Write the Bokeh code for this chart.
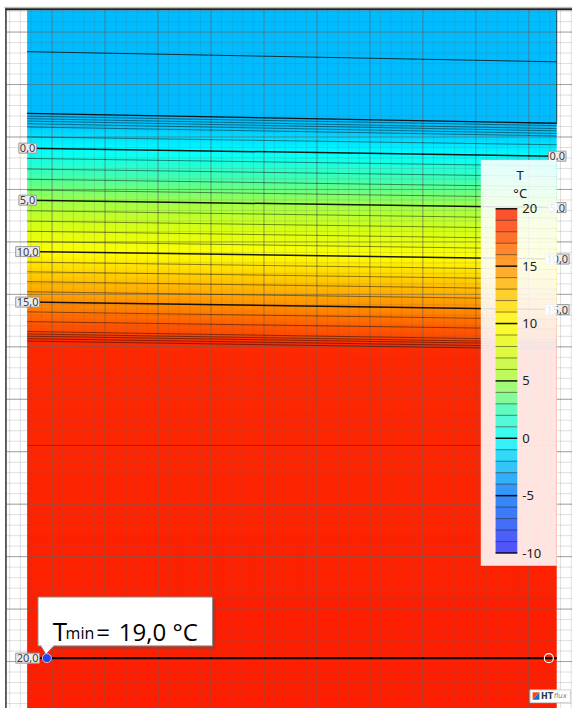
import numpy as np
from bokeh.plotting import figure
from bokeh.models import Range1d, LinearColorMapper, ColumnDataSource
from bokeh.transform import linear_cmap
from bokeh.core.properties import value
from bokeh.embed import file_html
from bokeh.resources import INLINE

# ---------------- data ----------------
# isotherm levels (degC) and their vertical position at left / right edge of the section
iso_level = [-2.45, -2.4, -2.3, -2.2, -2.1, -2.0, -1.9, -1.0,
             0, 1, 2, 3, 4, 5, 6, 7, 8, 9, 10, 11, 12, 13, 14, 15, 16, 17,
             17.8, 18.3, 18.7, 19.1, 19.4, 19.6, 20.0]
iso_y_left = [52.3, 115.5, 118.3, 120.8, 123.3, 126.0, 129.3, 139.5,
              151.0, 161.5, 172.3, 182.8, 193.8, 204.2, 215.0, 225.6, 236.0, 246.6,
              256.8, 267.5, 277.4, 287.5, 297.8, 308.4, 318.4, 328.4,
              338.5, 341.0, 343.3, 345.8, 348.3, 455.0, 672.5]
iso_y_right = [62.7, 125.5, 128.0, 131.0, 133.3, 136.0, 138.5, 147.5,
               159.2, 169.3, 180.0, 190.5, 201.5, 211.8, 222.7, 233.3, 243.7, 254.3,
               264.4, 275.2, 285.1, 295.2, 305.5, 316.1, 326.1, 336.1,
               347.0, 349.5, 351.5, 354.0, 356.5, 455.0, 672.5]

label_levels = [0, 5, 10, 15, 20]
label_texts = ["0,0", "5,0", "10,0", "15,0", "20,0"]
right_label_levels = [0, 5, 10, 15]

legend_ticks = [20, 15, 10, 5, 0, -5, -10]
legend_low, legend_high = -10, 20

tmin_value = 19.0
tmin_x, tmin_y = 47.0, 672.5
max_x, max_y = 556.0, 672.5

# ---------------- geometry / style ----------------
X_LEFT, X_RIGHT = 27.0, 564.0      # section extent
Y_TOP, Y_BOT = 10.0, 724.0
GX0, GDX = 52.3, 53.71             # grid origin / spacing
GY0, GDY = 32.3, 53.64

anchors = [(-10, (40, 40, 255)), (-5, (0, 120, 255)), (0, (0, 255, 255)),
           (2.5, (60, 255, 180)), (5, (160, 255, 70)), (7.5, (215, 255, 20)),
           (10, (255, 255, 0)), (12.5, (255, 200, 0)), (15, (255, 145, 0)),
           (17.5, (255, 80, 0)), (20, (255, 30, 0))]
at = np.array([a[0] for a in anchors], float)
ac = np.array([a[1] for a in anchors], float)
tt = np.linspace(legend_low, legend_high, 256)
palette = ["#%02x%02x%02x" % tuple(int(round(np.interp(t, at, ac[:, k]))) for k in range(3)) for t in tt]
mapper = LinearColorMapper(palette=palette, low=legend_low, high=legend_high)

p = figure(width=572, height=708, x_range=Range1d(0, 580), y_range=Range1d(724, 0),
           output_backend="svg", toolbar_location=None, min_border=0)
p.axis.visible = False
p.grid.visible = False
p.outline_line_color = None
p.background_fill_color = "white"
p.border_fill_color = "white"

# ---------------- temperature field ----------------
lev = np.array(iso_level, float)
yl = np.array(iso_y_left, float)
yr = np.array(iso_y_right, float)
xc = np.arange(X_LEFT, X_RIGHT, 3.0) + 1.5
yc = np.arange(Y_TOP, Y_BOT, 1.0) + 0.5
field = np.zeros((len(yc), len(xc)), dtype=np.float32)
for j, x in enumerate(xc):
    f = (x - X_LEFT) / (X_RIGHT - X_LEFT)
    field[:, j] = np.interp(yc, yl + (yr - yl) * f, lev)
p.image(image=[field], x=X_LEFT, y=Y_TOP, dw=X_RIGHT - X_LEFT, dh=Y_BOT - Y_TOP,
        color_mapper=mapper)

# ---------------- grid ----------------
minor_x = [v for v in np.arange(GX0 - 2 * GDX, 600, GDX / 5) if 6 < v < 580]
major_x = [v for v in np.arange(GX0 - 2 * GDX, 600, GDX) if 6 < v < 580]
minor_y = [v for v in np.arange(GY0 - 2 * GDY, 740, GDY / 5) if 9 < v < 724]
major_y = [v for v in np.arange(GY0 - 2 * GDY, 740, GDY) if 9 < v < 724]
p.segment(x0=minor_x, y0=9, x1=minor_x, y1=724, line_color="#646464", line_alpha=0.2, line_width=1)
p.segment(x0=6, y0=minor_y, x1=580, y1=minor_y, line_color="#646464", line_alpha=0.2, line_width=1)
p.segment(x0=major_x, y0=9, x1=major_x, y1=724, line_color="#646464", line_alpha=0.5, line_width=1)
p.segment(x0=6, y0=major_y, x1=580, y1=major_y, line_color="#646464", line_alpha=0.5, line_width=1)

# ---------------- isotherms ----------------
for L, a, b in zip(iso_level, iso_y_left, iso_y_right):
    if L in (0, 5, 10, 15):
        w, al = 1.5, 0.9
    elif L == 20.0:
        w, al = 2.2, 0.95
    elif L == -2.4:
        w, al = 1.3, 0.9
    elif L == -2.45:
        w, al = 1.0, 0.75
    elif L == 19.6:
        w, al = 1.0, 0.3
    else:
        w, al = 1.0, 0.45
    p.line(x=[X_LEFT, X_RIGHT], y=[a, b], line_color="black", line_width=w, line_alpha=al)

# right edge of the upper block
p.line(x=[X_RIGHT, X_RIGHT], y=[Y_TOP, iso_y_right[1]], line_color="#1a1a1a", line_width=1, line_alpha=0.8)

# outer frame
p.line(x=[4, 580], y=[7, 7], line_color="#b0b0b0", line_width=1)
p.line(x=[5, 580], y=[9, 9], line_color="#202020", line_width=2)
p.line(x=[5.5, 5.5], y=[8, 724], line_color="#303030", line_width=1.5)

# ---------------- isotherm labels ----------------
lab_font = value("Noto Sans")
ly = [iso_y_left[iso_level.index(L)] for L in label_levels]
p.text(x=[X_LEFT + 0.5] * len(ly), y=ly, text=label_texts, text_align="center", text_baseline="middle",
       text_font=lab_font, text_font_size="11px", text_color="#3c3c3c",
       background_fill_color="#ececec", border_line_color="#9a9a9a", padding=1)
ry = [iso_y_right[iso_level.index(L)] for L in right_label_levels]
rt = [label_texts[label_levels.index(L)] for L in right_label_levels]
p.text(x=[X_RIGHT + 0.5] * len(ry), y=ry, text=rt, text_align="center", text_baseline="middle",
       text_font=lab_font, text_font_size="11px", text_color="#3c3c3c",
       background_fill_color="#ececec", border_line_color="#9a9a9a", padding=1)

# ---------------- legend ----------------
LG_L, LG_R, LG_T, LG_B = 487, 564, 163, 578
CB_L, CB_R, CB_TOP, CB_BOT = 502, 524, 213.0, 565.0
def cb_y(t):
    return CB_BOT - (t - legend_low) * (CB_BOT - CB_TOP) / (legend_high - legend_low)

p.quad(left=LG_L, right=LG_R, top=LG_T, bottom=LG_B, fill_color="white", fill_alpha=0.88, line_color=None)
band_lo = list(range(legend_low, legend_high))
cb_src = ColumnDataSource(data={"mid": [t + 0.5 for t in band_lo],
                                "bot": [cb_y(t) for t in band_lo],
                                "top": [cb_y(t + 1) for t in band_lo]})
p.quad(left=CB_L, right=CB_R, bottom="bot", top="top",
       fill_color=linear_cmap("mid", palette, legend_low, legend_high), fill_alpha=0.8, line_color=None,
       source=cb_src)
all_t = list(range(legend_low, legend_high + 1))
thin = [cb_y(t) for t in all_t if t % 5 != 0]
thick = [cb_y(t) for t in all_t if t % 5 == 0]
p.segment(x0=CB_L, x1=CB_R, y0=thin, y1=thin, line_color="black", line_alpha=0.45, line_width=1)
p.segment(x0=CB_L, x1=CB_R, y0=thick, y1=thick, line_color="black", line_alpha=0.9, line_width=1.5)
p.text(x=[CB_R + 5] * len(legend_ticks), y=[cb_y(t) for t in legend_ticks], text=[str(t) for t in legend_ticks],
       text_baseline="middle", text_align="left", text_font=value("Noto Sans"), text_font_size="13px",
       text_color="#202020")
p.text(x=[527, 527], y=[178, 197], text=["T", "°C"], text_align="center", text_baseline="middle",
       text_font=value("Noto Sans"), text_font_size="13px", text_color="#202020")

# ---------------- points ----------------
p.scatter(x=[max_x], y=[max_y], size=9, fill_color=None, line_color="white", line_width=1.2)

# ---------------- T_min callout ----------------
BX_L, BX_R, BX_T, BX_B = 38, 215, 610, 660
p.quad(left=BX_L + 3, right=BX_R + 3, top=BX_T + 3, bottom=BX_B + 3, fill_color="#505050", fill_alpha=0.35,
       line_color=None)
p.quad(left=BX_L, right=BX_R, top=BX_T, bottom=BX_B, fill_color="white", line_color="#8a8a8a", line_width=1)
p.patch(x=[BX_L + 3, BX_L + 16, BX_L + 8], y=[BX_B - 0.5, BX_B - 0.5, BX_B + 8.5], fill_color="white",
        line_color=None)
p.line(x=[BX_L + 3, BX_L + 8, BX_L + 16], y=[BX_B, BX_B + 8.5, BX_B], line_color="#8a8a8a", line_width=1)
p.line(x=[BX_L + 3.5, BX_L + 15.5], y=[BX_B, BX_B], line_color="white", line_width=1.5)
cf = value("Open Sans")
p.text(x=[53], y=[645], text=["T"], text_font=cf, text_font_size="26px", text_color="black",
       text_baseline="alphabetic")
p.text(x=[66], y=[647], text=["min"], text_font=cf, text_font_size="16px", text_color="black",
       text_baseline="alphabetic")
p.text(x=[97], y=[645], text=["="], text_font=cf, text_font_size="24px", text_color="black",
       text_baseline="alphabetic")
p.text(x=[120], y=[645], text=[("%.1f" % tmin_value).replace(".", ",") + " °C"], text_font=cf,
       text_font_size="24px", text_color="black", text_baseline="alphabetic")
p.scatter(x=[tmin_x], y=[tmin_y], size=9, fill_color="#2244ee", line_color="#b8c4ff", line_width=1)

# ---------------- logo ----------------
p.quad(left=537, right=578, top=705, bottom=718, fill_color="white", line_color="#d0d0d0")
p.patch(x=[539.5, 546.5, 539.5], y=[707.5, 707.5, 715], fill_color="#e8501e", line_color=None)
p.patch(x=[546.5, 546.5, 539.5], y=[707.5, 715, 715], fill_color="#1f6fb5", line_color=None)
p.text(x=[548], y=[711.5], text=["HT"], text_font=value("DejaVu Sans"), text_font_style="bold",
       text_font_size="8px", text_color="#2a3a4a", text_baseline="middle")
p.text(x=[561], y=[711.5], text=["flux"], text_font=value("DejaVu Sans"), text_font_style="italic",
       text_font_size="7px", text_color="#808080", text_baseline="middle")

open("out.html", "w").write(file_html(p, INLINE))
